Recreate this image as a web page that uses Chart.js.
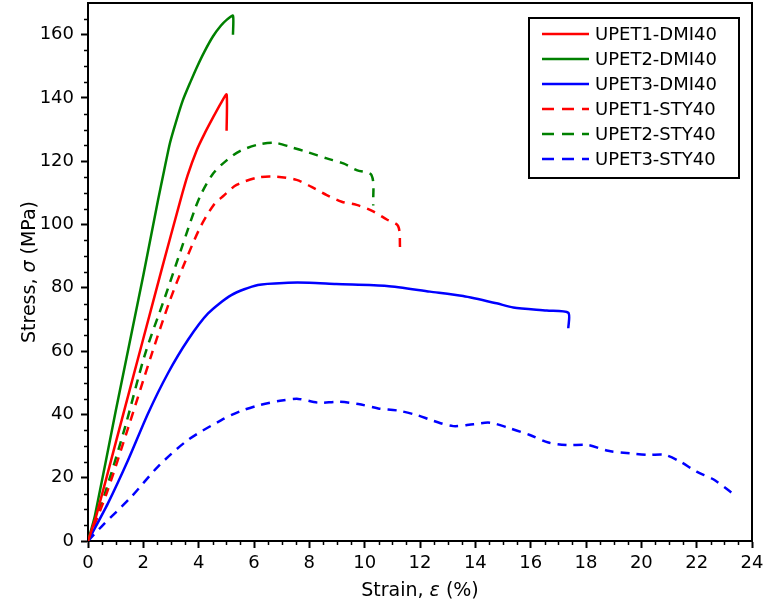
<!DOCTYPE html>
<html>
<head>
<meta charset="utf-8">
<style>
  body { margin: 0; background: #fff; }
  canvas { display: block; }
</style>
<script src="https://cdn.jsdelivr.net/npm/chart.js@4.4.1/dist/chart.umd.min.js"></script>
</head>
<body>
<canvas id="stressChart" width="767" height="607"></canvas>
<script>
// Strain (%) / stress (MPa)
const upet1DmiStrain = [0, 0.3, 1.0, 2.0, 2.7, 3.32, 3.6, 3.93, 4.2, 4.53, 4.8, 5.01, 5.01];
const upet1DmiStress = [0, 8, 31, 64, 87, 107, 115.5, 123.5, 128.5, 134, 138.3, 141.1, 129.6];

const upet2DmiStrain = [0, 0.25, 1.0, 2.0, 2.53, 2.75, 2.96, 3.2, 3.43, 3.7, 3.94, 4.2, 4.52, 4.8, 5.0, 5.24, 5.24];
const upet2DmiStress = [0, 8, 41, 84, 107.7, 117, 125.7, 133, 139.3, 145, 149.8, 154.5, 159.5, 162.8, 164.6, 166, 160];

const upet3DmiStrain = [0, 0.72, 1.45, 2.17, 2.89, 3.61, 4.34, 5.18, 6.14, 7.23, 8.0, 8.97, 10.8, 12.36, 13.56, 14.77, 15.37, 16.58, 17.36, 17.36];
const upet3DmiStress = [0, 11.9, 25.6, 40.3, 53, 63.5, 71.9, 77.7, 80.9, 81.6, 81.6, 81.2, 80.6, 78.8, 77.4, 75.1, 73.8, 72.8, 72.1, 67.2];

const upet1StyStrain = [0, 0.67, 1.46, 2.3, 2.96, 3.5, 4.05, 4.53, 4.89, 5.37, 6.16, 6.82, 7.54, 8.08, 8.63, 9.17, 9.71, 10.25, 10.8, 11.21, 11.28];
const upet1StyStress = [0, 15, 36, 59, 76, 88, 99, 106, 109, 112.5, 114.9, 115.1, 114.1, 111.9, 109.3, 107.2, 106.2, 104.4, 101.6, 99.5, 92.5];

const upet2StyStrain = [0, 0.61, 1.34, 2.06, 2.78, 3.4, 3.87, 4.11, 4.53, 5.0, 5.49, 6.16, 6.76, 7.36, 7.96, 8.63, 9.23, 9.71, 10.25, 10.31];
const upet2StyStress = [0, 15, 36, 59, 77, 93, 105, 110, 116.2, 120.2, 123.2, 125.3, 125.8, 124.4, 122.8, 120.9, 119.3, 117.2, 115.6, 106];

const upet3StyStrain = [0, 0.48, 1.57, 2.53, 3.61, 4.82, 5.5, 6.22, 6.94, 7.6, 8.32, 9.05, 9.77, 10.49, 11.21, 11.88, 12.48, 13.2, 13.93, 14.53, 15.25, 15.97, 16.64, 17.3, 18.08, 18.8, 19.59, 20.25, 20.85, 21.4, 22.0, 22.6, 23.26];
const upet3StyStress = [0, 4.5, 14, 23.5, 31.9, 38.2, 41, 43, 44.3, 44.9, 43.7, 44, 43.3, 41.9, 41.2, 39.8, 38, 36.3, 36.9, 37.4, 35.6, 33.5, 31.1, 30.3, 30.3, 28.5, 27.7, 27.2, 27.2, 25.1, 21.9, 19.5, 15.3];

const labels = ['UPET1-DMI40', 'UPET2-DMI40', 'UPET3-DMI40', 'UPET1-STY40', 'UPET2-STY40', 'UPET3-STY40'];
const xTicks = [0, 2, 4, 6, 8, 10, 12, 14, 16, 18, 20, 22, 24];
const yTicks = [0, 20, 40, 60, 80, 100, 120, 140, 160];

const FONT = '"DejaVu Sans", "Liberation Sans", Arial, sans-serif';
const RED = '#ff0000', GREEN = '#008000', BLUE = '#0000ff';
const DASH = [9, 7];

function toPoints(xs, ys) {
    return xs.map((v, i) => ({ x: v, y: ys[i] }));
}

function makeSet(label, xs, ys, color, dashed, tension) {
    return {
        label: label,
        data: toPoints(xs, ys),
        borderColor: color,
        backgroundColor: color,
        borderWidth: 2.5,
        borderDash: dashed ? DASH : [],
        showLine: true,
        pointRadius: 0,
        tension: tension
    };
}

const datasets = [
    makeSet(labels[0], upet1DmiStrain, upet1DmiStress, RED, false, 0.2),
    makeSet(labels[1], upet2DmiStrain, upet2DmiStress, GREEN, false, 0.2),
    makeSet(labels[2], upet3DmiStrain, upet3DmiStress, BLUE, false, 0.25),
    makeSet(labels[3], upet1StyStrain, upet1StyStress, RED, true, 0.3),
    makeSet(labels[4], upet2StyStrain, upet2StyStress, GREEN, true, 0.3),
    makeSet(labels[5], upet3StyStrain, upet3StyStress, BLUE, true, 0.3)
];

// draws text made of [string, italic] parts centred on (cx, cy)
function drawMixed(ctx, parts, cx, cy, size) {
    let total = 0;
    parts.forEach(p => {
        ctx.font = (p[1] ? 'italic ' : '') + size + 'px ' + FONT;
        total += ctx.measureText(p[0]).width;
    });
    let x = cx - total / 2;
    parts.forEach(p => {
        ctx.font = (p[1] ? 'italic ' : '') + size + 'px ' + FONT;
        ctx.fillText(p[0], x, cy);
        x += ctx.measureText(p[0]).width;
    });
}

const extras = {
    id: 'extras',
    afterDraw(chart) {
        const { ctx, chartArea: a, scales: { x, y } } = chart;
        ctx.save();
        ctx.strokeStyle = '#000';
        ctx.fillStyle = '#000';

        // top and right frame
        ctx.lineWidth = 2;
        ctx.beginPath();
        ctx.moveTo(a.left - 1, a.top);
        ctx.lineTo(a.right, a.top);
        ctx.lineTo(a.right, a.bottom + 1);
        ctx.stroke();

        // minor ticks
        ctx.lineWidth = 1.5;
        ctx.beginPath();
        for (let v = 0.5; v < 24; v += 0.5) {
            if (v % 2 === 0) continue;
            const px = Math.round(x.getPixelForValue(v)) + 0.5;
            ctx.moveTo(px, a.bottom);
            ctx.lineTo(px, a.bottom + 4);
        }
        for (let v = 5; v < 170; v += 5) {
            if (v % 20 === 0) continue;
            const py = Math.round(y.getPixelForValue(v)) + 0.5;
            ctx.moveTo(a.left, py);
            ctx.lineTo(a.left - 4, py);
        }
        ctx.stroke();

        // axis titles
        ctx.textBaseline = 'middle';
        ctx.textAlign = 'left';
        drawMixed(ctx, [['Strain, ', false], ['\u03b5', true], [' (%)', false]], (a.left + a.right) / 2, 591, 19);
        ctx.save();
        ctx.translate(30, (a.top + a.bottom) / 2);
        ctx.rotate(-Math.PI / 2);
        drawMixed(ctx, [['Stress, ', false], ['\u03c3', true], [' (MPa)', false]], 0, 0, 19);
        ctx.restore();

        // legend box
        const lx = a.right - 223, ly = a.top + 15, lw = 210, lh = 160;
        ctx.lineWidth = 2;
        ctx.fillStyle = '#fff';
        ctx.fillRect(lx, ly, lw, lh);
        ctx.strokeRect(lx, ly, lw, lh);
        ctx.font = '18px ' + FONT;
        chart.data.datasets.forEach((ds, i) => {
            const cy = ly + 16 + i * 25;
            ctx.strokeStyle = ds.borderColor;
            ctx.lineWidth = 2.5;
            ctx.setLineDash(ds.borderDash.length ? [12, 8] : []);
            ctx.beginPath();
            ctx.moveTo(lx + 13, cy);
            ctx.lineTo(lx + 60, cy);
            ctx.stroke();
            ctx.setLineDash([]);
            ctx.fillStyle = '#000';
            ctx.fillText(ds.label, lx + 66, cy + 1);
        });
        ctx.restore();
    }
};

const ctx = document.getElementById('stressChart').getContext('2d');
new Chart(ctx, {
    type: 'scatter',
    data: { datasets: datasets },
    options: {
        responsive: false,
        animation: false,
        layout: { padding: { top: 3, right: 15, left: 0, bottom: 0 } },
        plugins: {
            legend: { display: false },
            tooltip: { enabled: false }
        },
        scales: {
            x: {
                type: 'linear',
                min: 0,
                max: 24,
                afterFit: s => { s.height = 66; s.paddingLeft = 0; s.paddingRight = 0; },
                afterBuildTicks: s => { s.ticks = xTicks.map(v => ({ value: v })); },
                ticks: {
                    color: '#000',
                    padding: 5,
                    font: { family: FONT, size: 18 }
                },
                grid: {
                    drawOnChartArea: false,
                    tickLength: 7,
                    tickWidth: 2,
                    tickColor: '#000'
                },
                border: { color: '#000', width: 2 }
            },
            y: {
                type: 'linear',
                min: 0,
                max: 170,
                afterFit: s => { s.width = 88; s.paddingTop = 0; s.paddingBottom = 0; },
                afterBuildTicks: s => { s.ticks = yTicks.map(v => ({ value: v })); },
                ticks: {
                    color: '#000',
                    padding: 7,
                    font: { family: FONT, size: 18 }
                },
                grid: {
                    drawOnChartArea: false,
                    tickLength: 7,
                    tickWidth: 2,
                    tickColor: '#000'
                },
                border: { color: '#000', width: 2 }
            }
        }
    },
    plugins: [extras]
});
</script>
</body>
</html>
